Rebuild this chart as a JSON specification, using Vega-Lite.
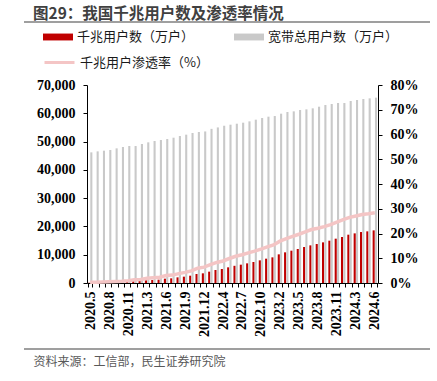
{
  "$schema": "https://vega.github.io/schema/vega-lite/v6.json",
  "width": 291,
  "height": 198,
  "autosize": {"type": "none"},
  "padding": {"left": 87, "top": 85, "right": 59, "bottom": 98},
  "background": "white",
  "config": {"view": {"stroke": null}, "font": "Noto Sans CJK SC"},
  "title": {"text": "图29：我国千兆用户数及渗透率情况", "anchor": "start", "frame": "group", "dx": -54, "offset": 0, "dy": 1, "fontSize": 15.5, "fontWeight": "bold", "color": "#404040", "font": "Noto Sans CJK SC"},
  "data": {"values": [
    {"month": "2020.5", "gigabit": 90, "total": 46190, "rate": 0.3},
    {"month": "2020.6", "gigabit": 120, "total": 46540, "rate": 0.3},
    {"month": "2020.7", "gigabit": 170, "total": 46780, "rate": 0.4},
    {"month": "2020.8", "gigabit": 220, "total": 47020, "rate": 0.5},
    {"month": "2020.9", "gigabit": 280, "total": 47600, "rate": 0.6},
    {"month": "2020.10", "gigabit": 350, "total": 48080, "rate": 0.7},
    {"month": "2020.11", "gigabit": 430, "total": 48430, "rate": 0.9},
    {"month": "2020.12", "gigabit": 640, "total": 48430, "rate": 1.3},
    {"month": "2021.2", "gigabit": 710, "total": 49140, "rate": 1.4},
    {"month": "2021.3", "gigabit": 940, "total": 49730, "rate": 1.9},
    {"month": "2021.4", "gigabit": 1060, "total": 50200, "rate": 2.1},
    {"month": "2021.5", "gigabit": 1180, "total": 50550, "rate": 2.3},
    {"month": "2021.6", "gigabit": 1530, "total": 50900, "rate": 3.0},
    {"month": "2021.7", "gigabit": 1650, "total": 51370, "rate": 3.2},
    {"month": "2021.8", "gigabit": 2000, "total": 51960, "rate": 3.8},
    {"month": "2021.9", "gigabit": 2240, "total": 52440, "rate": 4.3},
    {"month": "2021.10", "gigabit": 2590, "total": 53030, "rate": 4.9},
    {"month": "2021.11", "gigabit": 3180, "total": 53380, "rate": 6.0},
    {"month": "2021.12", "gigabit": 3420, "total": 53580, "rate": 6.4},
    {"month": "2022.2", "gigabit": 4010, "total": 54500, "rate": 7.4},
    {"month": "2022.3", "gigabit": 4590, "total": 55000, "rate": 8.3},
    {"month": "2022.4", "gigabit": 4950, "total": 55600, "rate": 8.9},
    {"month": "2022.5", "gigabit": 5540, "total": 55970, "rate": 9.9},
    {"month": "2022.6", "gigabit": 6080, "total": 56320, "rate": 10.8},
    {"month": "2022.7", "gigabit": 6480, "total": 56680, "rate": 11.4},
    {"month": "2022.8", "gigabit": 6950, "total": 57150, "rate": 12.2},
    {"month": "2022.9", "gigabit": 7420, "total": 57740, "rate": 12.9},
    {"month": "2022.10", "gigabit": 8010, "total": 58330, "rate": 13.7},
    {"month": "2022.11", "gigabit": 8600, "total": 58800, "rate": 14.6},
    {"month": "2022.12", "gigabit": 9070, "total": 59030, "rate": 15.4},
    {"month": "2023.2", "gigabit": 10130, "total": 59860, "rate": 16.9},
    {"month": "2023.3", "gigabit": 10840, "total": 60450, "rate": 17.9},
    {"month": "2023.4", "gigabit": 11430, "total": 60680, "rate": 18.8},
    {"month": "2023.5", "gigabit": 12020, "total": 61160, "rate": 19.7},
    {"month": "2023.6", "gigabit": 12720, "total": 61390, "rate": 20.7},
    {"month": "2023.7", "gigabit": 13310, "total": 61750, "rate": 21.6},
    {"month": "2023.8", "gigabit": 13780, "total": 62330, "rate": 22.1},
    {"month": "2023.9", "gigabit": 14370, "total": 62920, "rate": 22.8},
    {"month": "2023.10", "gigabit": 14960, "total": 63280, "rate": 23.6},
    {"month": "2023.11", "gigabit": 15670, "total": 63630, "rate": 24.6},
    {"month": "2023.12", "gigabit": 16260, "total": 63630, "rate": 25.6},
    {"month": "2024.2", "gigabit": 17080, "total": 64340, "rate": 26.5},
    {"month": "2024.3", "gigabit": 17550, "total": 64690, "rate": 27.1},
    {"month": "2024.4", "gigabit": 18020, "total": 65040, "rate": 27.7},
    {"month": "2024.5", "gigabit": 18260, "total": 65280, "rate": 28.0},
    {"month": "2024.6", "gigabit": 18610, "total": 65520, "rate": 28.4}
  ]},
  "layer": [
    {
      "data": {"values": [{}]},
      "mark": {"type": "rule", "color": "#7f7f7f", "strokeWidth": 1.5},
      "encoding": {"x": {"value": -63}, "x2": {"value": 343}, "y": {"value": -63}}
    },
    {
      "data": {"values": [{}]},
      "mark": {"type": "rule", "color": "#7f7f7f", "strokeWidth": 1.5},
      "encoding": {"x": {"value": -63}, "x2": {"value": 343}, "y": {"value": 264}}
    },
    {
      "transform": [{"fold": ["gigabit", "total"], "as": ["series", "value"]}],
      "mark": {"type": "bar"},
      "encoding": {
        "x": {
          "field": "month", "type": "ordinal", "sort": null,
          "scale": {"type": "band", "paddingInner": 0.3, "paddingOuter": 0.15},
          "axis": {
            "tickBand": "extent",
            "labelAngle": 270,
            "labelOverlap": false,
            "labelExpr": "indexof(['2020.5','2020.8','2020.11','2021.3','2021.6','2021.9','2021.12','2022.4','2022.7','2022.10','2023.2','2023.5','2023.8','2023.11','2024.3','2024.6'], datum.value) >= 0 ? datum.value : ''",
            "labelFont": "Liberation Serif", "labelFontWeight": "bold", "labelFontSize": 14, "labelColor": "black",
            "labelPadding": 4,
            "domainColor": "black", "tickColor": "black", "tickSize": 4,
            "title": "资料来源：工信部，民生证券研究院",
            "titleX": -54, "titleY": 78, "titleAlign": "left", "titleAnchor": "start", "titleBaseline": "middle",
            "titleFont": "Noto Sans CJK SC", "titleFontSize": 12, "titleFontWeight": "normal", "titleColor": "#595959"
          }
        },
        "xOffset": {"field": "series", "type": "nominal", "scale": {"domain": ["gigabit", "total"], "paddingInner": 0.1}},
        "y": {
          "field": "value", "type": "quantitative",
          "scale": {"domain": [0, 70000], "nice": false},
          "axis": {
            "values": [0, 10000, 20000, 30000, 40000, 50000, 60000, 70000],
            "format": ",d", "grid": false, "title": null,
            "labelFont": "Liberation Serif", "labelFontWeight": "bold", "labelFontSize": 14, "labelColor": "black",
            "labelPadding": 8, "domainColor": "black", "tickColor": "black", "tickSize": 4
          }
        },
        "color": {
          "field": "series", "type": "nominal",
          "scale": {"domain": ["gigabit", "total"], "range": ["#C00000", "#C9C9C9"]},
          "legend": {
            "orient": "none", "legendX": -44, "legendY": -63, "direction": "horizontal", "columns": 2,
            "title": null, "symbolType": "M-1,-0.23H1V0.23H-1Z", "symbolSize": 900, "symbolStrokeWidth": 0,
            "labelFont": "Noto Sans CJK SC", "labelFontSize": 13, "labelColor": "#1a1a1a", "labelOffset": 4,
            "columnPadding": 39,
            "labelExpr": "datum.value == 'gigabit' ? '千兆用户数（万户）' : '宽带总用户数（万户）'"
          }
        }
      }
    },
    {
      "mark": {"type": "line", "strokeWidth": 3.5},
      "encoding": {
        "x": {"field": "month", "type": "ordinal", "sort": null, "scale": {"type": "band", "paddingInner": 0.3, "paddingOuter": 0.15}},
        "y": {
          "field": "rate", "type": "quantitative",
          "scale": {"domain": [0, 80], "nice": false},
          "axis": {
            "orient": "right",
            "values": [0, 10, 20, 30, 40, 50, 60, 70, 80],
            "labelExpr": "datum.value + '%'", "grid": false, "title": null,
            "labelFont": "Liberation Serif", "labelFontWeight": "bold", "labelFontSize": 14, "labelColor": "black",
            "labelPadding": 8, "domainColor": "black", "tickColor": "black", "tickSize": 4
          }
        },
        "stroke": {
          "datum": "rate", "type": "nominal",
          "scale": {"range": ["#F4C5C5"]},
          "legend": {
            "orient": "none", "legendX": -44, "legendY": -39,
            "title": null, "symbolType": "stroke", "symbolSize": 900, "symbolStrokeWidth": 3,
            "labelFont": "Noto Sans CJK SC", "labelFontSize": 13, "labelColor": "#1a1a1a", "labelOffset": 4,
            "labelExpr": "'千兆用户渗透率（%）'"
          }
        }
      }
    }
  ],
  "resolve": {"scale": {"y": "independent"}}
}
